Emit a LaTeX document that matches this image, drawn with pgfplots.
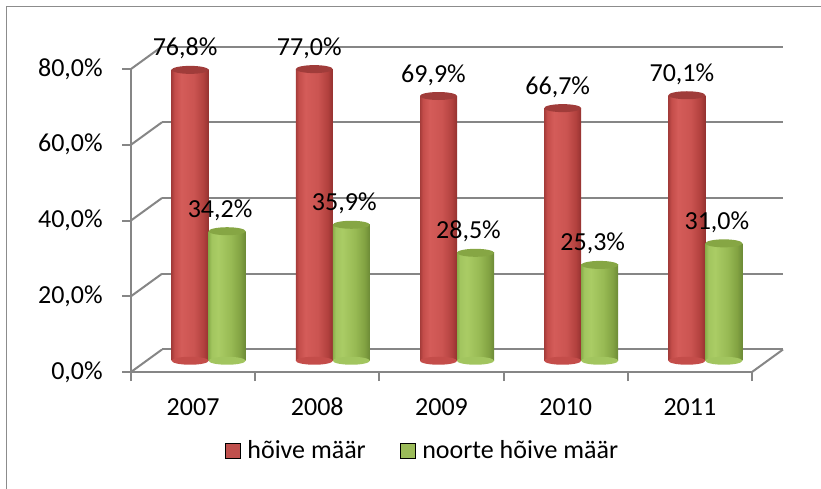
\documentclass[border=0pt]{standalone}
\usepackage{pgfplots}
\pgfplotsset{compat=1.18}
\usepackage{fontspec}
\setmainfont{Carlito}
\definecolor{gridgray}{RGB}{134,134,134}
\definecolor{framegray}{RGB}{140,140,140}
\definecolor{rA}{RGB}{165,60,58}
\definecolor{rBr}{RGB}{196,77,74}
\definecolor{rC}{RGB}{212,92,89}
\definecolor{rD}{RGB}{203,84,81}
\definecolor{rE}{RGB}{178,65,62}
\definecolor{rF}{RGB}{148,50,48}
\definecolor{rT}{RGB}{160,60,58}
\definecolor{rB}{RGB}{192,80,77}
\definecolor{gA}{RGB}{138,174,74}
\definecolor{gBr}{RGB}{162,197,95}
\definecolor{gC}{RGB}{170,204,101}
\definecolor{gD}{RGB}{152,186,84}
\definecolor{gE}{RGB}{130,162,66}
\definecolor{gF}{RGB}{108,138,54}
\definecolor{gT}{RGB}{134,166,68}
\definecolor{gB}{RGB}{155,187,89}
\pgfdeclarehorizontalshading{cylR}{100bp}{color(0bp)=(rA); color(25bp)=(rA); color(29bp)=(rBr); color(38bp)=(rC); color(55bp)=(rD); color(68bp)=(rE); color(75bp)=(rF); color(100bp)=(rF)}
\pgfdeclarehorizontalshading{cylG}{100bp}{color(0bp)=(gA); color(25bp)=(gA); color(29bp)=(gBr); color(38bp)=(gC); color(55bp)=(gD); color(68bp)=(gE); color(75bp)=(gF); color(100bp)=(gF)}
\pgfdeclareplotmark{cyl}{\pgfpathellipse{\pgfpointorigin}{\pgfqpoint{13.875pt}{0pt}}{\pgfqpoint{0pt}{3pt}}\pgfusepathqfill}
\pgfplotsset{
  base/.style={scale only axis, width=465.75pt, height=227.25pt,
    xmin=-0.5, xmax=4.5, ymin=0, ymax=80, clip=false},
  lbl/.style={nodes near coords={\pgfmathprintnumber[fixed,zerofill,precision=1,use comma,assume math mode=true]{\pgfplotspointmeta}\%},
    every node near coord/.append style={anchor=base, inner sep=0pt, yshift=10.5pt, xshift=#1, text=black}},
}
% one cylinder: x, value
\newcommand\rcyl[2]{%
  \addplot[only marks, mark=cyl, mark options={fill=rBr, draw=none, xshift=-13.875pt}] coordinates {(#1,0)};
  \addplot[ybar, bar width=27.75pt, bar shift=-13.875pt, draw=none, shading=cylR] coordinates {(#1,#2)};
  \addplot[only marks, mark=cyl, mark options={fill=rT, draw=none, xshift=-13.875pt}, lbl=-3.75pt] coordinates {(#1,#2)};
}
\newcommand\gcyl[2]{%
  \addplot[only marks, mark=cyl, mark options={fill=gBr, draw=none, xshift=13.875pt}] coordinates {(#1,0)};
  \addplot[ybar, bar width=27.75pt, bar shift=13.875pt, draw=none, shading=cylG] coordinates {(#1,#2)};
  \addplot[only marks, mark=cyl, mark options={fill=gT, draw=none, xshift=13.875pt}, lbl=-5.25pt] coordinates {(#1,#2)};
}
\begin{document}
\fontsize{19.5pt}{23pt}\selectfont
\begin{tikzpicture}
\useasboundingbox (0,0) rectangle (615.75pt,366.75pt);
\draw[framegray, line width=1pt] (4.875pt,0) -- (4.875pt,361.875pt) -- (615.75pt,361.875pt);
% back wall
\begin{axis}[base, at={(121.5pt,104.625pt)}, anchor=south west,
  axis line style={draw=none}, xtick=\empty, ytick={0,20,...,80}, yticklabels={},
  major tick length=0pt, ymajorgrids, grid style={gridgray, line width=1.5pt}]
\addplot[draw=none] coordinates {(0,0)};
\end{axis}
% front plane
\begin{axis}[base, at={(98.25pt,87.75pt)}, anchor=south west,
  axis lines*=left, axis line style={gridgray, line width=1.5pt},
  tick style={gridgray, line width=1.5pt}, tick align=outside, major tick length=6.75pt,
  ytick={0,20,...,80},
  yticklabel={\pgfmathprintnumber[fixed,zerofill,precision=1,use comma,assume math mode=true]{\tick}\%},
  yticklabel style={anchor=east, inner sep=0pt, xshift=-14.25pt},
  xtick={-0.5,0.5,1.5,2.5,3.5,4.5}, xticklabels={},
  extra x ticks={0,1,2,3,4}, extra x tick labels={2007,2008,2009,2010,2011},
  extra x tick style={major tick length=0pt, xticklabel style={anchor=base, inner sep=0pt, yshift=-32.25pt}},
  legend image code/.code={\fill[#1] (0pt,-5.625pt) rectangle (11.25pt,5.625pt);},
  legend columns=2,
  legend style={draw=none, fill=none, at={(0.4678,-0.2607)}, anchor=center,
    nodes={inner sep=0pt},
    /tikz/every odd column/.append style={column sep=5.25pt},
    /tikz/every even column/.append style={column sep=25.5pt}},
  legend cell align=left]
\addplot[draw=none, forget plot] coordinates {(0,0)};
\pgfplotsinvokeforeach{0,20,40,60,80}{\draw[gridgray, line width=1.5pt] (axis cs:-0.5,#1) -- ++(23.25pt,16.875pt);}
\draw[gridgray, line width=1.5pt] (axis cs:4.5,0) -- ++(23.25pt,16.875pt);
\addlegendimage{fill=rB}
\addlegendentry{hõive määr}
\addlegendimage{fill=gB}
\addlegendentry{noorte hõive määr}
\end{axis}
% cylinders
\begin{axis}[base, at={(109.875pt,96.1875pt)}, anchor=south west, hide axis]
\rcyl{0}{76.8}
\gcyl{0}{34.2}
\rcyl{1}{77.0}
\gcyl{1}{35.9}
\rcyl{2}{69.9}
\gcyl{2}{28.5}
\rcyl{3}{66.7}
\gcyl{3}{25.3}
\rcyl{4}{70.1}
\gcyl{4}{31.0}
\end{axis}
\end{tikzpicture}
\end{document}
